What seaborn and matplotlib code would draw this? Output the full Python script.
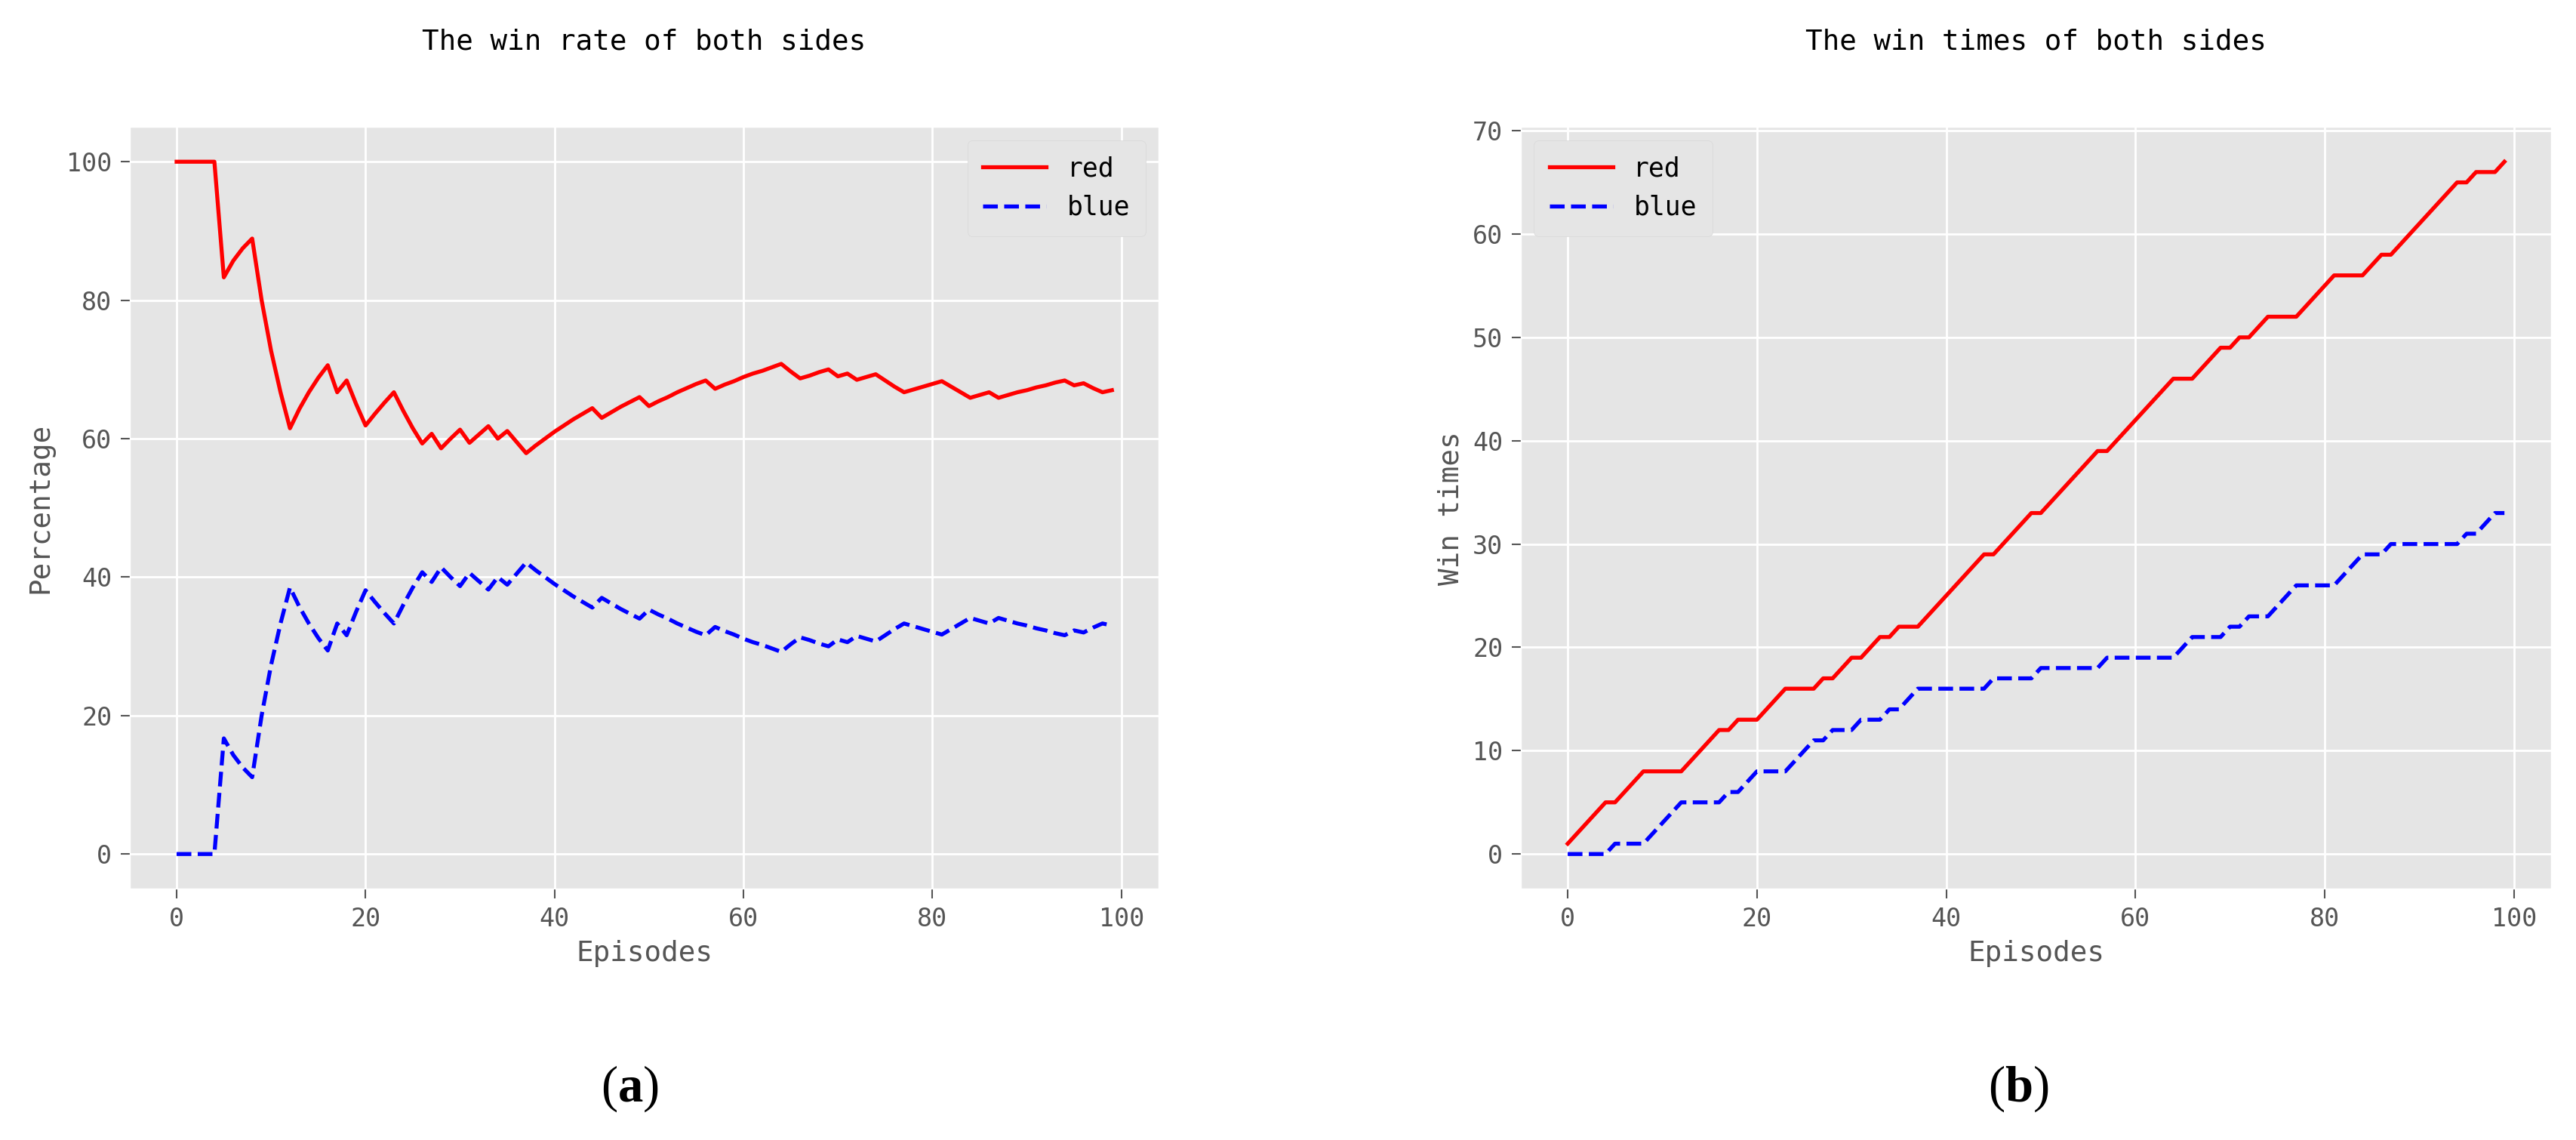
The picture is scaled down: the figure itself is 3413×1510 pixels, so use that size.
import numpy as np
import pandas as pd
import matplotlib
matplotlib.use("Agg")
import matplotlib.pyplot as plt
import seaborn as sns

# episodes 0..99
episodes = np.arange(100)

# cumulative win counts
red_times = [1, 2, 3, 4, 5, 5, 6, 7, 8, 8, 8, 8, 8, 9, 10, 11, 12, 12, 13, 13,
             13, 14, 15, 16, 16, 16, 16, 17, 17, 18, 19, 19, 20, 21, 21, 22, 22, 22, 23, 24,
             25, 26, 27, 28, 29, 29, 30, 31, 32, 33, 33, 34, 35, 36, 37, 38, 39, 39, 40, 41,
             42, 43, 44, 45, 46, 46, 46, 47, 48, 49, 49, 50, 50, 51, 52, 52, 52, 52, 53, 54,
             55, 56, 56, 56, 56, 57, 58, 58, 59, 60, 61, 62, 63, 64, 65, 65, 66, 66, 66, 67]
blue_times = [0, 0, 0, 0, 0, 1, 1, 1, 1, 2, 3, 4, 5, 5, 5, 5, 5, 6, 6, 7,
              8, 8, 8, 8, 9, 10, 11, 11, 12, 12, 12, 13, 13, 13, 14, 14, 15, 16, 16, 16,
              16, 16, 16, 16, 16, 17, 17, 17, 17, 17, 18, 18, 18, 18, 18, 18, 18, 19, 19, 19,
              19, 19, 19, 19, 19, 20, 21, 21, 21, 21, 22, 22, 23, 23, 23, 24, 25, 26, 26, 26,
              26, 26, 27, 28, 29, 29, 29, 30, 30, 30, 30, 30, 30, 30, 30, 31, 31, 32, 33, 33]

# win rate (%)
red_rate = [100, 100, 100, 100, 100, 83.3, 85.7, 87.5, 88.9, 80.0,
            72.7, 66.7, 61.5, 64.3, 66.7, 68.8, 70.6, 66.7, 68.4, 65.0,
            61.9, 63.6, 65.2, 66.7, 64.0, 61.5, 59.3, 60.7, 58.6, 60.0,
            61.3, 59.4, 60.6, 61.8, 60.0, 61.1, 59.5, 57.9, 59.0, 60.0,
            61.0, 61.9, 62.8, 63.6, 64.4, 63.0, 63.8, 64.6, 65.3, 66.0,
            64.7, 65.4, 66.0, 66.7, 67.3, 67.9, 68.4, 67.2, 67.8, 68.3,
            68.9, 69.4, 69.8, 70.3, 70.8, 69.7, 68.7, 69.1, 69.6, 70.0,
            69.0, 69.4, 68.5, 68.9, 69.3, 68.4, 67.5, 66.7, 67.1, 67.5,
            67.9, 68.3, 67.5, 66.7, 65.9, 66.3, 66.7, 65.9, 66.3, 66.7,
            67.0, 67.4, 67.7, 68.1, 68.4, 67.7, 68.0, 67.3, 66.7, 67.0]
blue_rate = [0, 0, 0, 0, 0, 16.7, 14.3, 12.5, 11.1, 20.0,
             27.3, 33.3, 38.5, 35.7, 33.3, 31.2, 29.4, 33.3, 31.6, 35.0,
             38.1, 36.4, 34.8, 33.3, 36.0, 38.5, 40.7, 39.3, 41.4, 40.0,
             38.7, 40.6, 39.4, 38.2, 40.0, 38.9, 40.5, 42.1, 41.0, 40.0,
             39.0, 38.1, 37.2, 36.4, 35.6, 37.0, 36.2, 35.4, 34.7, 34.0,
             35.3, 34.6, 34.0, 33.3, 32.7, 32.1, 31.6, 32.8, 32.2, 31.7,
             31.1, 30.6, 30.2, 29.7, 29.2, 30.3, 31.3, 30.9, 30.4, 30.0,
             31.0, 30.6, 31.5, 31.1, 30.7, 31.6, 32.5, 33.3, 32.9, 32.5,
             32.1, 31.7, 32.5, 33.3, 34.1, 33.7, 33.3, 34.1, 33.7, 33.3,
             33.0, 32.6, 32.3, 31.9, 31.6, 32.3, 32.0, 32.7, 33.3, 33.0]

plt.style.use("ggplot")
plt.rcParams['font.family'] = ['DejaVu Sans Mono', 'DejaVu Sans']
plt.rcParams['mathtext.fontset'] = 'custom'
plt.rcParams['mathtext.bf'] = 'Liberation Serif:bold'
plt.rcParams['mathtext.rm'] = 'Liberation Serif'

fig = plt.figure(figsize=(34.13, 15.10), dpi=100)
ax1 = fig.add_axes([0.0504, 0.2205, 0.3994, 0.668])
ax2 = fig.add_axes([0.5904, 0.2205, 0.4000, 0.668])

#panel a: win rate
sns.lineplot(x=episodes, y=red_rate, color="red", lw=3.8, label="red", ax=ax1)
sns.lineplot(x=episodes, y=blue_rate, color="blue", lw=3.8, linestyle="--", label="blue", ax=ax1)
ax1.set_title("The win rate of both sides", fontsize=27, pad=74, color="black")
ax1.set_xlabel("Episodes", fontsize=27, color="#555555", labelpad=8)
ax1.set_ylabel("Percentage", fontsize=27, color="#555555", labelpad=12)
ax1.set_yticks([0, 20, 40, 60, 80, 100])
ax1.legend(loc="upper right", fontsize=25, handlelength=2.4, borderpad=0.6,
           facecolor="#E5E5E5", edgecolor="#D8D8D8", framealpha=1)

#panel b: win times
sns.lineplot(x=episodes, y=red_times, color="red", lw=3.8, label="red", ax=ax2)
sns.lineplot(x=episodes, y=blue_times, color="blue", lw=3.8, linestyle="--", label="blue", ax=ax2)
ax2.set_title("The win times of both sides", fontsize=27, pad=74, color="black")
ax2.set_xlabel("Episodes", fontsize=27, color="#555555", labelpad=8)
ax2.set_ylabel("Win times", fontsize=27, color="#555555", labelpad=8)
ax2.legend(loc="upper left", fontsize=25, handlelength=2.4, borderpad=0.6,
           facecolor="#E5E5E5", edgecolor="#D8D8D8", framealpha=1)

for ax in (ax1, ax2):
    ax.set_xticks([0, 20, 40, 60, 80, 100])
    ax.tick_params(labelsize=24, colors="#555555", length=9, width=1.5, pad=8)
    ax.grid(color="white", lw=2)

fig.text(0.2445, 0.045, r"($\mathbf{a}$)", ha="center", va="center", fontsize=48, family="Liberation Serif")
fig.text(0.7835, 0.045, r"($\mathbf{b}$)", ha="center", va="center", fontsize=48, family="Liberation Serif")

fig.savefig("out.png", dpi=100)
